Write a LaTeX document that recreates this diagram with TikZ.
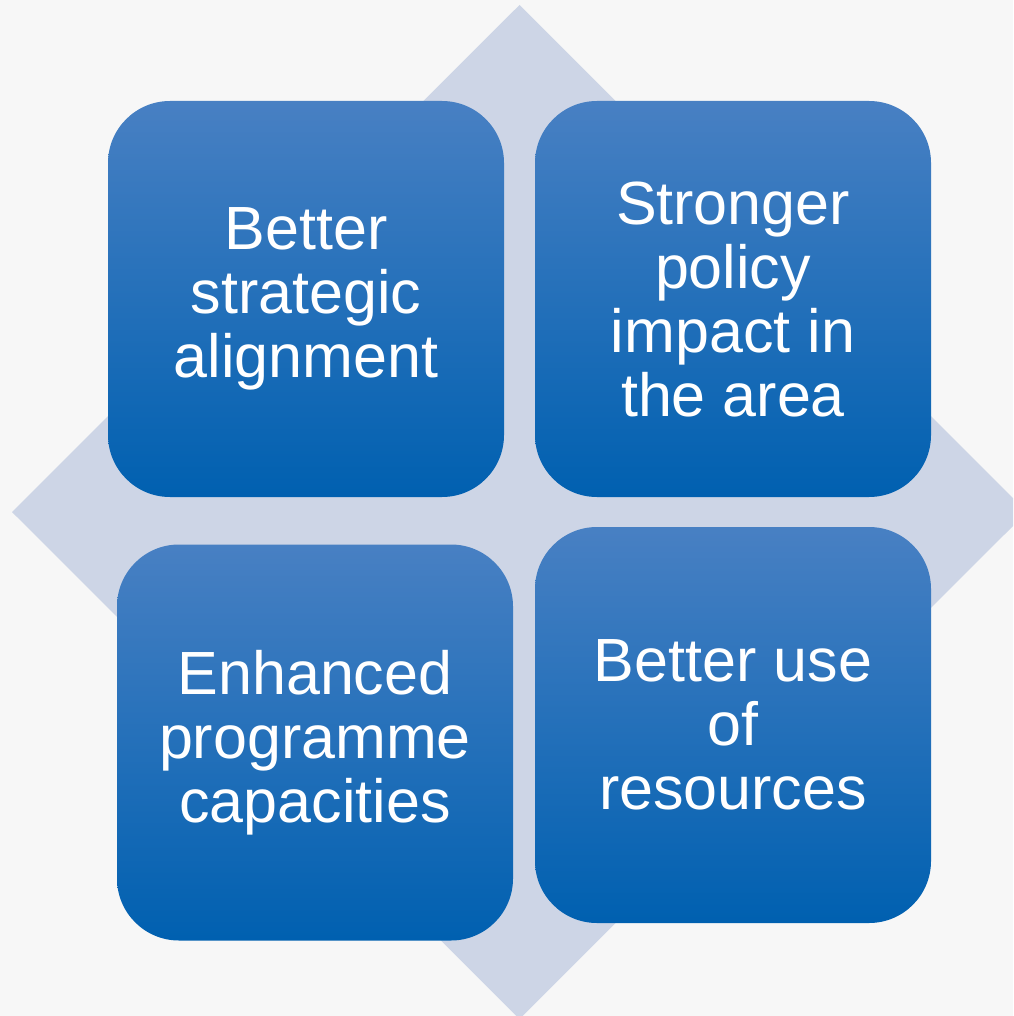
\documentclass[tikz,border=0pt]{standalone}
\usepackage{fontspec}
\setmainfont{Liberation Sans}
\definecolor{bgcol}{HTML}{F7F7F7}
\definecolor{diamcol}{HTML}{CDD5E6}
\definecolor{boxtop}{HTML}{4880C3}
\definecolor{boxmid}{HTML}{1269B8}
\definecolor{boxbot}{HTML}{0060B0}

\begin{document}
\begin{tikzpicture}[x=1pt,y=-1pt,
    box/.style={rounded corners=62pt, minimum width=396pt, minimum height=396pt, inner sep=0pt,
        top color=boxtop, middle color=boxmid, bottom color=boxbot, text=white, align=center,
        font=\fontsize{61}{64}\selectfont}]
    \useasboundingbox (0,0) rectangle (1013,1016);
    \clip (0,0) rectangle (1013,1016);
    \fill[bgcol] (0,0) rectangle (1013,1016);
    \fill[diamcol] (519.5,5) -- (1027,512) -- (519.5,1019) -- (12,512) -- cycle;

    \node[box] (strategy) at (306,299) {Better\\strategic\\alignment};
    \node[box] (policy) at (733,299) {Stronger\\policy\\impact in\\the area};
    \node[box] (capacity) at (315,742.5) {Enhanced\\programme\\capacities};
    \node[box] (resources) at (733,725) {Better use\\of\\resources};
\end{tikzpicture}
\end{document}
